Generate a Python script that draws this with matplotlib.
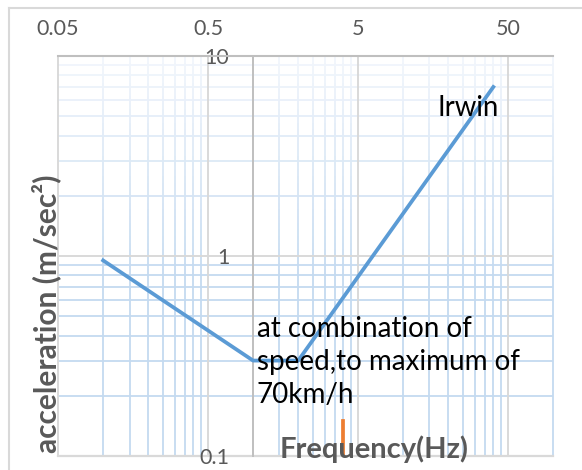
import numpy as np
import matplotlib.pyplot as plt
from matplotlib.collections import LineCollection
from matplotlib.transforms import blended_transform_factory
from matplotlib.colors import to_rgb

# data
freq = [0.1, 1, 2, 40]
accel = [0.95, 0.3, 0.3, 7]
mark_freq = [4, 4]
mark_accel = [0.1, 0.15]
xticks = [0.05, 0.5, 5, 50]
yticks = [0.1, 1, 10]

W, H = 582, 470
FONT = "Lato"
GRAY = "#595959"

def fx(x):
    return x / W

def fy(y):
    return 1 - y / H

fig = plt.figure(figsize=(W / 100, H / 100), dpi=100)
ax = fig.add_axes([fx(58), fy(456), (553 - 58) / W, (456 - 56) / H])
ax.set_xscale("log")
ax.set_yscale("log")
ax.set_xlim(0.05, 100)
ax.set_ylim(0.1, 10)

# outer chart border (only top/left visible)
fig.add_artist(plt.Line2D([fx(9), fx(9)], [fy(8), 0], color="#d9d9d9", lw=1.5))
fig.add_artist(plt.Line2D([fx(9), 1], [fy(8), fy(8)], color="#d9d9d9", lw=1.5))

top_c = np.array(to_rgb("#f2f6fc"))
low_c = np.array(to_rgb("#c4daf0"))

def grad(t):
    # t = axes fraction, 1 at top
    k = np.clip((1 - t) / 0.55, 0, 1)
    return tuple(top_c + (low_c - top_c) * k)

# minor vertical gridlines with a vertical gradient
vminor = [0.05 * k for k in range(2, 10)] + [0.5 * k for k in range(3, 10)] \
    + [5 * k for k in range(2, 10)] + [100]
tr = blended_transform_factory(ax.transData, ax.transAxes)
N = 60
segs, cols = [], []
for x in vminor:
    for i in range(N):
        y0, y1 = i / N, (i + 1) / N
        segs.append([(x, y0), (x, y1)])
        cols.append(grad((y0 + y1) / 2))
ax.add_collection(LineCollection(segs, colors=cols, linewidths=1.3,
                                 transform=tr, zorder=0.5, clip_on=False))

# minor horizontal gridlines
for dec in [0.1, 1]:
    for k in range(2, 10):
        y = dec * k
        t = np.log10(y / 0.1) / 2
        ax.axhline(y, color=grad(t), lw=1.3, zorder=0.6)

# major gridlines
for x in xticks:
    ax.axvline(x, color="#d9d9d9", lw=1.4, zorder=0.8, clip_on=False)
ax.axhline(1, color="#d9d9d9", lw=1.4, zorder=0.8)
ax.axhline(0.1, color="#d9d9d9", lw=1.6, zorder=0.8, clip_on=False)

for s in ["right", "bottom"]:
    ax.spines[s].set_visible(False)
ax.spines["top"].set_color("#bfbfbf")
ax.spines["top"].set_linewidth(1.5)
ax.spines["left"].set_position(("data", 1))
ax.spines["left"].set_color("#bfbfbf")
ax.spines["left"].set_linewidth(1.4)

ax.xaxis.tick_top()
ax.set_xticks(xticks, [f"{v:g}" for v in xticks])
ax.set_xticks([], minor=True)
ax.set_yticks(yticks, [f"{v:g}" for v in yticks])
ax.set_yticks([], minor=True)
ax.tick_params(axis="x", length=0, pad=12, labelsize=15.5, labelcolor=GRAY)
ax.tick_params(axis="y", length=0, pad=17, labelsize=15.5, labelcolor=GRAY)
for lab in ax.get_xticklabels() + ax.get_yticklabels():
    lab.set_fontfamily(FONT)

ax.plot(freq, accel, color="#5b9bd5", lw=2.7, zorder=3, solid_joinstyle="round")
ax.plot(mark_freq, mark_accel, color="#ed7d31", lw=2.7, zorder=3)

fig.text(fx(437), fy(108), "Irwin", fontsize=19.8, family=FONT, color="black",
         ha="left", va="center")
fig.text(fx(257), fy(362), "at combination of\nspeed,to maximum of\n70km/h",
         fontsize=20, family=FONT, color="black", ha="left", va="center",
         linespacing=1.35)
fig.text(fx(374), fy(449), "Frequency(Hz)", fontsize=21, family=FONT,
         fontweight="bold", color=GRAY, ha="center", va="center", zorder=5)
fig.text(fx(46), fy(314), "acceleration (m/sec²)", fontsize=21.5, family=FONT,
         fontweight="bold", color=GRAY, ha="center", va="center", rotation=90)

fig.savefig("out.png", dpi=100)
